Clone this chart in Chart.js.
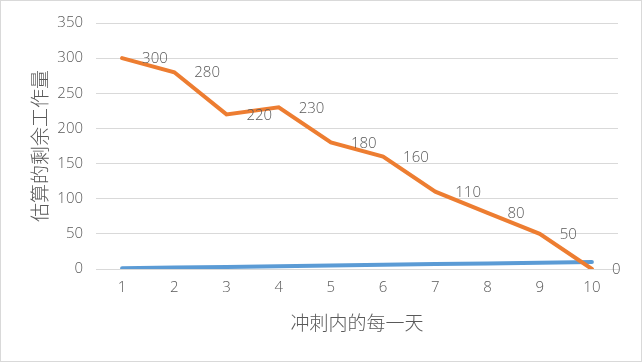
<!DOCTYPE html>
<html>
<head>
<meta charset="utf-8">
<script src="https://cdn.jsdelivr.net/npm/chart.js@4"></script>
<style>
  body { margin: 0; background: #fff; }
  #box { width: 642px; height: 362px; box-sizing: border-box; border: 1px solid #d9d9d9; background: #fff; }
</style>
</head>
<body>
<div id="box"><canvas id="c" width="640" height="360"></canvas></div>
<script>
const days = ['1', '2', '3', '4', '5', '6', '7', '8', '9', '10'];
const remaining = [300, 280, 220, 230, 180, 160, 110, 80, 50, 0];
const dayIndex = [1, 2, 3, 4, 5, 6, 7, 8, 9, 10];
const yTicks = [0, 50, 100, 150, 200, 250, 300, 350];

const textColor = '#595959';
const font = "'Open Sans', 'Noto Sans CJK SC', sans-serif";

// labels to the right of each orange point, like the Excel data labels
const pointLabels = {
  id: 'pointLabels',
  afterDatasetsDraw(chart) {
    const ctx = chart.ctx;
    const meta = chart.getDatasetMeta(0);
    ctx.save();
    ctx.font = '300 15px ' + font;
    ctx.fillStyle = textColor;
    ctx.textAlign = 'left';
    ctx.textBaseline = 'middle';
    meta.data.forEach((pt, i) => {
      ctx.fillText(String(remaining[i]), pt.x + 20, pt.y + 1);
    });
    ctx.restore();
  }
};

new Chart(document.getElementById('c'), {
  type: 'line',
  data: {
    labels: days,
    datasets: [
      {
        label: 'remaining',
        data: remaining,
        borderColor: '#ED7D31',
        borderWidth: 4,
        pointRadius: 0,
        borderCapStyle: 'round',
        tension: 0
      },
      {
        label: 'day',
        data: dayIndex,
        borderColor: '#5B9BD5',
        borderWidth: 4,
        pointRadius: 0,
        borderCapStyle: 'round',
        tension: 0
      }
    ]
  },
  options: {
    responsive: false,
    animation: false,
    layout: { padding: { left: 0, right: 23, top: 22, bottom: 0 } },
    plugins: { legend: { display: false }, tooltip: { enabled: false } },
    scales: {
      x: {
        offset: true,
        grid: { display: false, drawTicks: false },
        border: { display: true, color: '#d9d9d9', width: 1 },
        ticks: { color: textColor, font: { family: font, size: 15, weight: 300 }, padding: 10, maxRotation: 0 },
        title: {
          display: true,
          text: '冲刺内的每一天',
          color: textColor,
          font: { family: font, size: 19, weight: 300 },
          padding: { top: 0, bottom: 25 }
        },
        afterFit(scale) { scale.height = 92; }
      },
      y: {
        min: 0,
        max: 350,
        afterBuildTicks(scale) { scale.ticks = yTicks.map(v => ({ value: v })); },
        grid: { color: '#d9d9d9', drawTicks: false },
        border: { display: false },
        ticks: { color: textColor, font: { family: font, size: 15, weight: 300 }, padding: 13 },
        title: {
          display: true,
          text: '估算的剩余工作量',
          color: textColor,
          font: { family: font, size: 19, weight: 300 },
          padding: { top: 29, bottom: 0 }
        },
        afterFit(scale) { scale.width = 95; }
      }
    }
  },
  plugins: [pointLabels]
});
</script>
</body>
</html>
